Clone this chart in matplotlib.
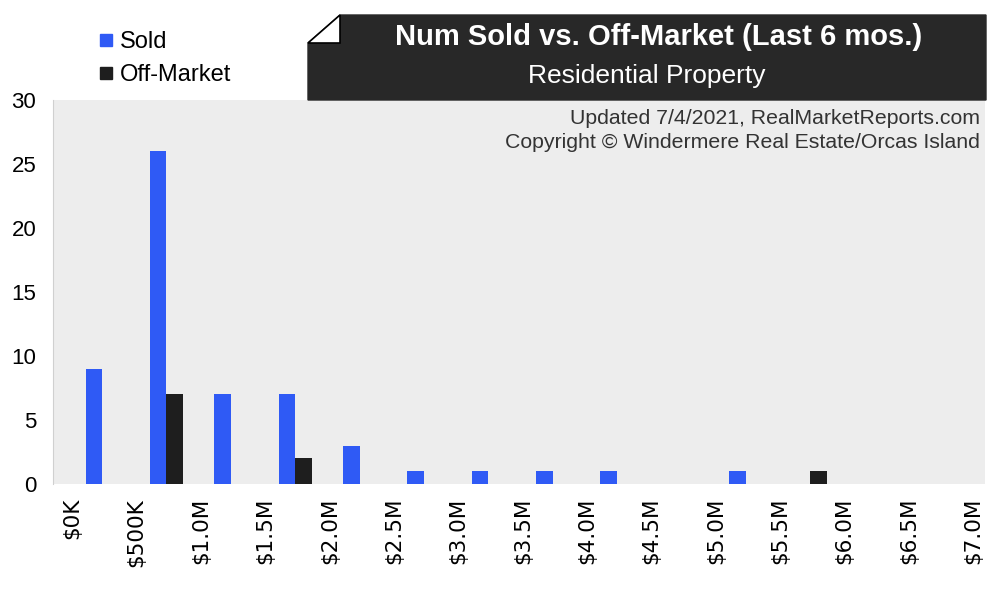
import matplotlib.pyplot as plt
from matplotlib.patches import Polygon
from matplotlib.lines import Line2D

# price bins of $500K, counts for the last 6 months
tick_labels = ["$0K", "$500K", "$1.0M", "$1.5M", "$2.0M", "$2.5M", "$3.0M", "$3.5M",
               "$4.0M", "$4.5M", "$5.0M", "$5.5M", "$6.0M", "$6.5M", "$7.0M"]
sold = [9, 26, 7, 7, 3, 1, 1, 1, 1, 0, 1, 0, 0, 0]
off_market = [0, 7, 0, 2, 0, 0, 0, 0, 0, 0, 0, 1, 0, 0]

blue = "#2f5af5"
black = "#1e1e1e"
W, H = 989, 592


def px(x, y):
    # pixel coords (top-left origin) -> figure fraction
    return (x / W, 1 - y / H)


fig = plt.figure(figsize=(W / 100, H / 100), dpi=100)
fig.patch.set_facecolor("white")

l, b = px(53, 484)
r, t = px(985, 100)
ax = fig.add_axes([l, b, r - l, t - b])
ax.set_facecolor("#ededed")

bins = list(range(len(sold)))
w = 0.256
ax.bar([i + 0.334 for i in bins], sold, width=w, color=blue)
ax.bar([i + 0.334 + w for i in bins], off_market, width=w, color=black)

ax.set_xlim(-0.3, 14.18)
ax.set_ylim(0, 30)
ax.set_xticks(range(len(tick_labels)))
ax.set_xticklabels(tick_labels, rotation=90)
ax.set_yticks([0, 5, 10, 15, 20, 25, 30])
ax.tick_params(axis="x", length=0, pad=10)
ax.tick_params(axis="y", length=0, pad=12)
for lab in ax.get_xticklabels():
    lab.set_fontfamily("DejaVu Sans")
    lab.set_fontsize(15.5)
for lab in ax.get_yticklabels():
    lab.set_fontfamily("Liberation Sans")
    lab.set_fontsize(16)
for s in ["top", "right", "bottom"]:
    ax.spines[s].set_visible(False)
ax.spines["left"].set_color("#d0d0d0")
ax.spines["left"].set_linewidth(0.8)

# title banner with folded corner
box = Polygon([px(308, 43), px(340, 15), px(986, 15), px(986, 100), px(308, 100)],
              closed=True, transform=fig.transFigure, facecolor="#282828",
              edgecolor="#282828", zorder=5)
fold = Polygon([px(308, 43), px(340, 15), px(340, 43)], closed=True,
               transform=fig.transFigure, facecolor="white", edgecolor="black",
               linewidth=1.2, zorder=6)
fig.patches.extend([box, fold])
fig.text(*px(659, 37), "Num Sold vs. Off-Market (Last 6 mos.)", color="white",
         fontsize=21, fontweight="bold", family="Liberation Sans",
         ha="center", va="center", zorder=7)
fig.text(*px(647, 76), "Residential Property", color="white", fontsize=19,
         family="Liberation Sans", ha="center", va="center", zorder=7)

fig.text(*px(980, 118), "Updated 7/4/2021, RealMarketReports.com", fontsize=15.3,
         family="Liberation Sans", color="#333333", ha="right", va="center")
fig.text(*px(980, 142), "Copyright \u00a9 Windermere Real Estate/Orcas Island",
         fontsize=15.3, family="Liberation Sans", color="#333333",
         ha="right", va="center")

handles = [Line2D([], [], marker="s", linestyle="", color=blue, markersize=8),
           Line2D([], [], marker="s", linestyle="", color=black, markersize=8)]
fig.legend(handles, ["Sold", "Off-Market"], loc="upper left",
           bbox_to_anchor=px(89, 22), frameon=False, handlelength=0.6,
           handletextpad=0.3, labelspacing=0.45, borderaxespad=0,
           prop={"family": "Liberation Sans", "size": 17})

fig.savefig("out.png", dpi=100)
